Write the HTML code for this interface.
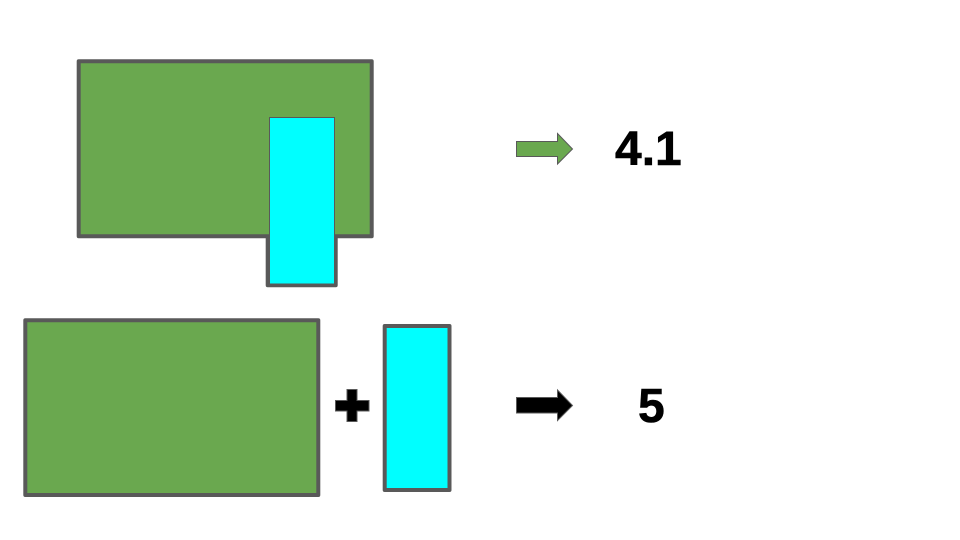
<!DOCTYPE html>
<html>
<head>
<meta charset="utf-8">
<title>Area comparison diagram</title>
<style>
html,body{margin:0;padding:0;background:#fff;width:960px;height:540px;overflow:hidden}
svg{display:block}
text{font-family:"Liberation Sans",sans-serif;font-weight:bold;fill:#000;font-size:48px;stroke:#000;stroke-width:0.6px}
</style>
</head>
<body>
<svg width="960" height="540" viewBox="0 0 960 540">
  <defs><clipPath id="lower-clip"><rect x="260" y="236" width="90" height="60"/></clipPath></defs>
  <rect x="0" y="0" width="960" height="540" fill="#ffffff"/>
  <rect x="78.7" y="61.3" width="293" height="175" fill="#6aa84f" stroke="#595959" stroke-width="4" stroke-linejoin="round"/>
  <rect x="267.7" y="117" width="68" height="168.3" fill="#00ffff" stroke="#595959" stroke-width="4" stroke-linejoin="round" clip-path="url(#lower-clip)"/>
  <rect x="269.5" y="117.5" width="65" height="166" fill="#00ffff" stroke="#595959" stroke-width="1"/>
  <rect x="270" y="230" width="64" height="53.5" fill="#00ffff"/>
  <polygon points="516.5,141.5 557.5,141.5 557.5,133.5 572.5,149 557.5,164 557.5,156.5 516.5,156.5" fill="#6aa84f" stroke="#595959" stroke-width="1"/>
  <text x="615" y="165">4.1</text>
  <rect x="25.3" y="320.3" width="293" height="174.7" fill="#6aa84f" stroke="#595959" stroke-width="4" stroke-linejoin="round"/>
  <polygon points="347,389.5 357,389.5 357,400.5 369,400.5 369,411 357,411 357,421.5 347,421.5 347,411 335.5,411 335.5,400.5 347,400.5" fill="#000000" stroke="#595959" stroke-width="1"/>
  <rect x="384.7" y="326" width="64.8" height="164" fill="#00ffff" stroke="#595959" stroke-width="4" stroke-linejoin="round"/>
  <polygon points="516.5,397.5 557.5,397.5 557.5,390 572.5,405.5 557.5,420.5 557.5,413 516.5,413" fill="#000000" stroke="#595959" stroke-width="1"/>
  <text x="638" y="422">5</text>
</svg>
</body>
</html>
